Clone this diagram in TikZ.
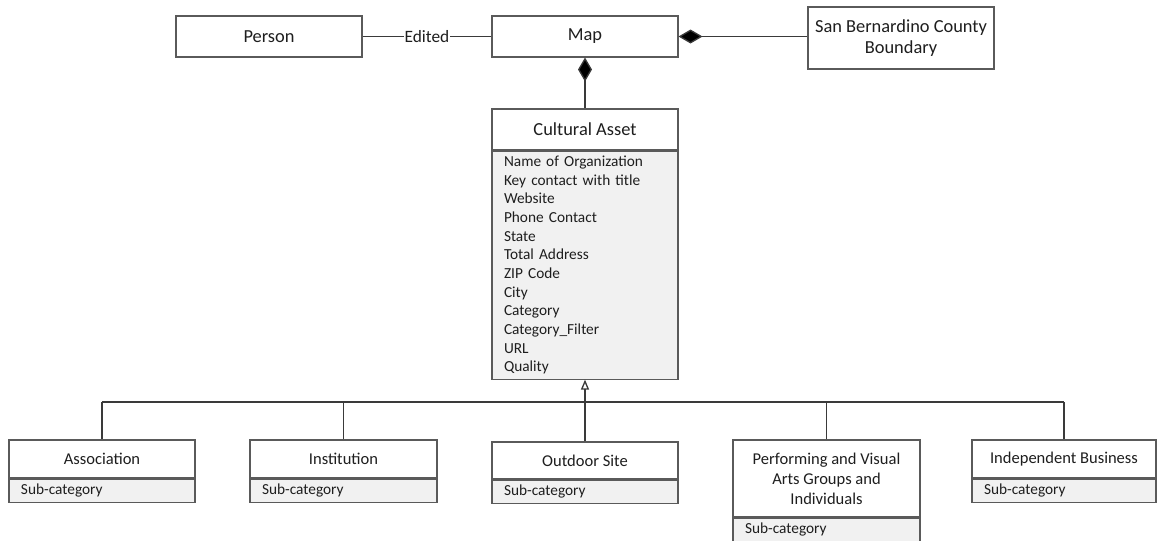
\documentclass[tikz,border=0pt]{standalone}
\usepackage{fontspec}
\setmainfont{Carlito}
\usetikzlibrary{arrows.meta,positioning}
\definecolor{txt}{HTML}{1E1E1E}
\definecolor{bord}{HTML}{5A5A5A}
\definecolor{ln}{HTML}{3A3A3A}
\definecolor{attr}{HTML}{F1F1F1}
\tikzset{
  cls/.style={draw=bord, line width=0.8pt, fill=white, inner sep=0pt, text=txt,
    minimum width=139.5pt, font=\fontsize{13.8}{15.5}\selectfont, align=center},
  subcls/.style={cls, font=\fontsize{12.4}{15}\selectfont},
  attrbox/.style={draw=bord, line width=0.8pt, fill=attr, inner sep=0pt, text=txt,
    minimum width=139.5pt, font=\fontsize{11.5}{14}\selectfont, align=left, text width=121.5pt},
  conn/.style={draw=ln, line width=1pt},
}
\begin{document}
\begin{tikzpicture}[x=0.75pt,y=-0.75pt]
\useasboundingbox (0,0) rectangle (1157,540);
% top row
\node[cls, minimum height=30.75pt] (person) at (269,36.5) {Person};
\node[cls, minimum height=30.75pt] (map) at (585,36.5) {Map};
\node[cls, minimum height=46.5pt] (sbcb) at (901,38) {San Bernardino County\\Boundary};
% cultural asset
\node[cls, minimum height=30.75pt] (caH) at (585,129.5) {Cultural Asset};
\node[attrbox, minimum height=171pt, anchor=north] (caA) at (caH.south) {Name of Organization\\Key contact with title\\Website\\Phone Contact\\State\\Total Address\\ZIP Code\\City\\Category\\Category\_Filter\\URL\\Quality};
% subclasses
\node[subcls, minimum height=28.5pt] (assocH) at (102,459) {Association};
\node[attrbox, minimum height=17.25pt, anchor=north] (assocA) at (assocH.south) {Sub-category};
\node[subcls, minimum height=28.5pt, minimum width=140.25pt] (instH) at (343.5,459) {Institution};
\node[attrbox, minimum height=17.25pt, minimum width=140.25pt, text width=122.25pt, anchor=north] (instA) at (instH.south) {Sub-category};
\node[subcls, minimum height=27.75pt] (outH) at (585,460.5) {Outdoor Site};
\node[attrbox, minimum height=17.25pt, anchor=north] (outA) at (outH.south) {Sub-category};
\node[subcls, minimum height=57.75pt, minimum width=140.25pt] (perfH) at (826.5,478.5) {Performing and Visual\\Arts Groups and\\Individuals};
\node[attrbox, minimum height=17.25pt, minimum width=140.25pt, text width=122.25pt, anchor=north] (perfA) at (perfH.south) {Sub-category};
\node[subcls, minimum height=28.5pt, minimum width=138pt] (indH) at (1064,459) {Independent Business};
\node[attrbox, minimum height=17.25pt, minimum width=138pt, text width=120pt, anchor=north] (indA) at (indH.south) {Sub-category};
% connectors
\draw[conn] (person.east) -- node[fill=white, inner sep=0.5pt, text=txt, font=\fontsize{13}{15}\selectfont] (edited) {Edited} (map.west);
\draw[conn, {Diamond[length=18pt,width=10.5pt,fill=black]}-] (map.east) -- (map.east -| sbcb.west);
\draw[conn, {Diamond[length=18pt,width=10.5pt,fill=black]}-] (map.south) -- (caH.north);
\coordinate (bus) at (585,402);
\draw[conn, -{Triangle[open,length=7.5pt,width=6pt,fill=white]}] (bus) -- (caA.south);
\draw[conn] (assocH.north |- bus) -- (indH.north |- bus);
\draw[conn] (assocH.north) -- (assocH.north |- bus);
\draw[conn] (instH.north) -- (instH.north |- bus);
\draw[conn] (outH.north) -- (bus);
\draw[conn] (perfH.north) -- (perfH.north |- bus);
\draw[conn] (indH.north) -- (indH.north |- bus);
\end{tikzpicture}
\end{document}
